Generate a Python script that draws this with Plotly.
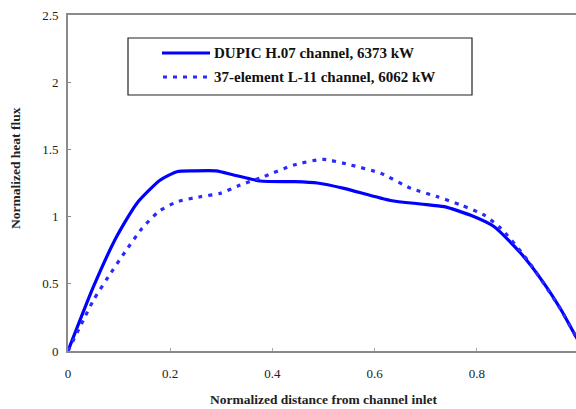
import plotly.graph_objects as go

# DUPIC H.07 channel, 6373 kW (solid)
dupic_x = [0.0, 0.05, 0.095, 0.135, 0.18, 0.213, 0.246, 0.29, 0.324, 0.376, 0.442, 0.488,
           0.54, 0.631, 0.69, 0.736, 0.788, 0.834, 0.886, 0.932, 0.965, 0.994, 1.0]
dupic_y = [0.0, 0.48, 0.85, 1.10, 1.27, 1.334, 1.34, 1.34, 1.31, 1.265, 1.26, 1.25,
           1.21, 1.12, 1.094, 1.074, 1.01, 0.925, 0.727, 0.50, 0.305, 0.106, 0.07]

# 37-element L-11 channel, 6062 kW (dotted)
elem_x = [0.0, 0.03, 0.05, 0.079, 0.112, 0.145, 0.177, 0.213, 0.259, 0.298, 0.337, 0.383,
          0.442, 0.50, 0.553, 0.612, 0.671, 0.723, 0.769, 0.814, 0.847, 0.899, 0.965, 0.994, 1.0]
elem_y = [0.0, 0.23, 0.38, 0.553, 0.739, 0.913, 1.036, 1.11, 1.148, 1.173, 1.235, 1.297,
          1.384, 1.426, 1.384, 1.322, 1.21, 1.148, 1.086, 1.012, 0.913, 0.677, 0.305, 0.106, 0.07]

series_names = ["DUPIC H.07 channel, 6373 kW", "37-element L-11 channel, 6062 kW"]
x_ticks = [0, 0.2, 0.4, 0.6, 0.8]
x_tick_labels = ["0", "0.2", "0.4", "0.6", "0.8"]
y_ticks = [0, 0.5, 1, 1.5, 2, 2.5]
y_tick_labels = ["0", "0.5", "1", "1.5", "2", "2.5"]

FONT = "Liberation Serif, Times New Roman, serif"
BLUE = "#0000ff"
DOT_BLUE = "#2a2aff"
DOT_DASH = "4px,6px"

# pixel -> paper helpers (plot area: x 68..576, y 15..351)
L, R, T, B = 68, 576, 15, 351
def px(x):
    return (x - L) / (R - L)
def py(y):
    return (B - y) / (B - T)

fig = go.Figure()
fig.add_trace(go.Scatter(x=dupic_x, y=dupic_y, mode="lines", name=series_names[0],
                         line=dict(color=BLUE, width=3.2, shape="spline", smoothing=0.6),
                         showlegend=False))
fig.add_trace(go.Scatter(x=elem_x, y=elem_y, mode="lines", name=series_names[1],
                         line=dict(color=DOT_BLUE, width=3.2, dash=DOT_DASH, shape="spline", smoothing=0.6),
                         showlegend=False))

shapes = [
    dict(type="rect", xref="paper", yref="paper",
         x0=px(128), x1=px(472), y0=py(95), y1=py(38),
         line=dict(color="#222", width=1.2), fillcolor="rgba(0,0,0,0)"),
    dict(type="line", xref="paper", yref="paper", x0=px(162), x1=px(210), y0=py(53), y1=py(53),
         line=dict(color=BLUE, width=3.2)),
    dict(type="line", xref="paper", yref="paper", x0=px(163), x1=px(212), y0=py(77), y1=py(77),
         line=dict(color=DOT_BLUE, width=3.2, dash=DOT_DASH)),
]
annotations = [
    dict(xref="paper", yref="paper", x=px(212), y=py(53), xanchor="left", yanchor="middle",
         text="<b>" + series_names[0] + "</b>", showarrow=False,
         font=dict(family=FONT, size=15, color="#111")),
    dict(xref="paper", yref="paper", x=px(212), y=py(77), xanchor="left", yanchor="middle",
         text="<b>" + series_names[1] + "</b>", showarrow=False,
         font=dict(family=FONT, size=15, color="#111")),
    dict(xref="paper", yref="paper", x=px(15), y=py(168), xanchor="center", yanchor="middle",
         text="<b>Normalized heat flux</b>", textangle=-90, showarrow=False,
         font=dict(family=FONT, size=13.5, color="#222")),
    dict(xref="paper", yref="paper", x=px(323), y=py(399), xanchor="center", yanchor="middle",
         text="<b>Normalized distance from channel inlet</b>", showarrow=False,
         font=dict(family=FONT, size=13.5, color="#222")),
]

fig.update_layout(
    width=576, height=409,
    margin=dict(l=L, r=576 - R, t=T, b=409 - B),
    paper_bgcolor="white", plot_bgcolor="white",
    font=dict(family=FONT, size=13, color="#111"),
    showlegend=False,
    shapes=shapes,
    annotations=annotations,
)

fig.update_xaxes(range=[0, 0.994], tickvals=x_ticks, ticktext=x_tick_labels,
                 showgrid=False, zeroline=False, automargin=False,
                 showline=True, linecolor="#8a8a8a", linewidth=2, mirror=True,
                 ticks="inside", ticklen=3, tickcolor="#aaa",
                 ticklabelstandoff=9,
                 tickprefix="<b>", ticksuffix="</b>",
                 tickfont=dict(family=FONT, size=13, color="#222"))
fig.update_yaxes(range=[0, 2.5], tickvals=y_ticks, ticktext=y_tick_labels,
                 showgrid=False, zeroline=False, automargin=False,
                 showline=True, linecolor="#8a8a8a", linewidth=2,
                 ticks="inside", ticklen=3, tickcolor="#888",
                 ticklabelstandoff=5,
                 tickprefix="<b>", ticksuffix="</b>",
                 tickfont=dict(family=FONT, size=13, color="#222"))

fig.write_html("out.html", config={"displayModeBar": False},
               post_script="document.body.style.margin='0';document.body.style.padding='0';")
